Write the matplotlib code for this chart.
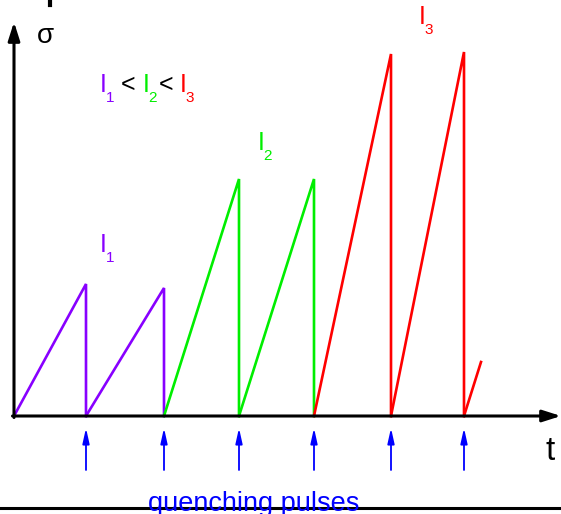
import matplotlib
matplotlib.use("Agg")
import matplotlib.pyplot as plt

plt.rcParams['font.family'] = ['Liberation Sans', 'DejaVu Sans']

# sawtooth: stress builds up linearly, each quenching pulse resets it
pulse_t = [72, 150, 225, 300, 377, 450]
seg_start = [0, 72, 150, 225, 300, 377]
peak_sigma = [132, 128, 237, 237, 362, 364]
seg_color = ['#8800ff', '#8800ff', '#00ee00', '#00ee00', '#ff0000', '#ff0000']
tail_t = [450, 467]
tail_sigma = [0, 54]

purple, green, red, blue = '#8800ff', '#00ee00', '#ff0000', '#0000ff'

fig = plt.figure(figsize=(5.61, 5.14), dpi=100)
ax = fig.add_axes([0, 0, 1, 1])
ax.set_xlim(-14, 547)
ax.set_ylim(-98, 416)
ax.axis('off')

for t0, t1, p, c in zip(seg_start, pulse_t, peak_sigma, seg_color):
    ax.plot([t0, t1, t1], [0, p, 0], color=c, lw=1.9, solid_joinstyle='miter')
ax.plot(tail_t, tail_sigma, color=red, lw=1.9)

# axes with arrow heads
ax.annotate('', xy=(0, 394), xytext=(0, -1.5),
            arrowprops=dict(arrowstyle='-|>,head_length=1.1,head_width=0.35',
                            color='black', lw=2.2, shrinkA=0, shrinkB=0))
ax.annotate('', xy=(547, 0), xytext=(-1.5, 0),
            arrowprops=dict(arrowstyle='-|>,head_length=1.1,head_width=0.35',
                            color='black', lw=2.2, shrinkA=0, shrinkB=0))

# quenching pulse markers
for t in pulse_t:
    ax.annotate('', xy=(t, -12), xytext=(t, -54),
                arrowprops=dict(arrowstyle='-|>,head_length=0.9,head_width=0.2',
                                color=blue, lw=1.3, shrinkA=0, shrinkB=0))

ax.text(23, 373, 'σ', fontsize=20, color='black', va='baseline')
ax.text(532, -44, 't', fontsize=24, color='black', va='baseline')
ax.text(240, -95, 'quenching pulses', fontsize=19.5, color=blue,
        ha='center', va='baseline')
ax.plot([-14, 547], [-92, -92], color='black', lw=2.2)
ax.plot([36, 36], [416, 411], color='black', lw=3)


def current(x, y, num, color):
    ax.text(x, y, 'I', fontsize=18, color=color, va='baseline')
    ax.text(x + 5.5, y - 10, num, fontsize=11, color=color, va='baseline')


current(86, 324, '1', purple)
ax.text(107, 324, '<', fontsize=18, color='black', va='baseline')
current(129, 324, '2', green)
ax.text(145, 324, '<', fontsize=18, color='black', va='baseline')
current(166, 324, '3', red)

current(86, 164, '1', purple)
current(244, 266, '2', green)
current(405, 392, '3', red)

fig.savefig('out.png', dpi=100)
